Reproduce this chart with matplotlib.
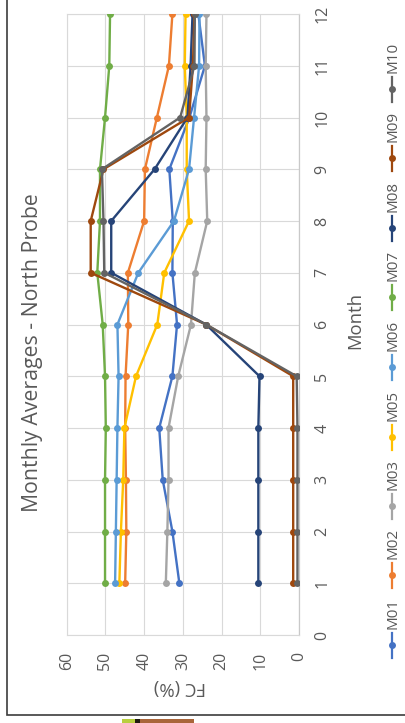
import matplotlib
matplotlib.use("Agg")
import matplotlib.pyplot as plt
from matplotlib.patches import Rectangle

plt.rcParams['font.family'] = ['Open Sans', 'DejaVu Sans']

# Monthly average FC (%) per probe
months = [1, 2, 3, 4, 5, 6, 7, 8, 9, 10, 11, 12]
series_names = ["M01", "M02", "M03", "M05", "M06", "M07", "M08", "M09", "M10"]
M01 = [30.9, 32.7, 35.2, 36.1, 32.7, 31.5, 32.7, 32.6, 33.5, 28.3, 24.3, 26.0]
M02 = [44.9, 44.6, 44.7, 44.9, 44.8, 44.1, 44.2, 40.0, 39.8, 36.7, 33.6, 32.7]
M03 = [34.4, 34.0, 33.7, 33.7, 31.2, 27.9, 26.9, 23.7, 24.1, 23.9, 24.1, 23.9]
M05 = [46.4, 46.0, 45.4, 45.1, 42.1, 36.6, 34.8, 28.4, 29.0, 29.0, 29.5, 29.3]
M06 = [47.5, 47.3, 47.1, 46.9, 46.6, 46.9, 41.5, 32.3, 28.4, 27.1, 25.8, 25.7]
M07 = [50.1, 50.1, 50.1, 49.9, 50.1, 50.7, 52.1, 51.4, 51.4, 50.1, 49.0, 48.8]
M08 = [10.5, 10.5, 10.5, 10.5, 10.2, 24.0, 48.5, 48.5, 37.3, 28.8, 28.0, 27.5]
M09 = [1.5, 1.5, 1.5, 1.5, 1.5, 24.0, 53.8, 53.8, 50.5, 28.4, 27.4, 27.0]
M10 = [0.4, 0.4, 0.4, 0.4, 0.6, 24.0, 50.3, 50.5, 50.9, 30.7, 27.0, 26.9]
series_values = [M01, M02, M03, M05, M06, M07, M08, M09, M10]
series_colors = ["#4472C4", "#ED7D31", "#A5A5A5", "#FFC000", "#5B9BD5",
                 "#70AD47", "#264478", "#9E480E", "#636363"]

fc_ticks = [0, 10, 20, 30, 40, 50, 60]
month_ticks = list(range(0, 13))

title = "Monthly Averages - North Probe"
x_title = "Month"
y_title = "FC (%)"

W, H = 406, 723
fig = plt.figure(figsize=(W / 100, H / 100), dpi=100)
fig.patch.set_facecolor("white")

text_color = "#595959"
grid_color = "#D9D9D9"

# The chart is drawn turned a quarter turn: FC runs right-to-left, months bottom-to-top
ax = fig.add_axes([66.7 / W, 1 - 635 / H, (299 - 66.7) / W, (635 - 14) / H])
ax.set_xlim(60, 0)
ax.set_ylim(0, 12)
ax.set_xticks(fc_ticks)
ax.set_yticks(month_ticks)
ax.grid(True, color=grid_color, lw=0.8)
ax.set_axisbelow(True)
for side in ["top", "bottom", "left"]:
    ax.spines[side].set_color(grid_color)
    ax.spines[side].set_linewidth(0.8)
ax.spines["right"].set_color("#C9C9C9")
ax.spines["right"].set_linewidth(0.9)
ax.yaxis.tick_right()
ax.tick_params(axis="x", length=0, labelrotation=90, pad=12, labelsize=11.5,
               labelcolor=text_color)
ax.tick_params(axis="y", length=0, labelrotation=90, pad=11, labelsize=11.5,
               labelcolor=text_color)
for t in ax.yaxis.get_major_ticks():
    t.label2.set_va("center")

for i, (name, vals, col) in enumerate(zip(series_names, series_values, series_colors)):
    ax.plot(vals, months, color=col, lw=1.7, marker="o", ms=5.0,
            markeredgewidth=0, zorder=3 + i, label=name)

# Overlay in pixel coordinates for titles, legend and frame
ov = fig.add_axes([0, 0, 1, 1])
ov.set_xlim(0, W)
ov.set_ylim(H, 0)
ov.axis("off")
ov.patch.set_visible(False)

ov.text(33, 353, title, rotation=90, ha="center", va="center",
        fontsize=15.3, color=text_color)
ov.text(355, 320, x_title, rotation=90, ha="center", va="center",
        fontsize=13.3, color=text_color)
ov.text(180, 687, y_title, rotation=180, ha="center", va="center",
        fontsize=13.3, color=text_color)

# Legend, stacked bottom-to-top
legend_y = [645, 575, 506, 437, 367, 297, 228, 158, 89]
for name, col, yc in zip(series_names, series_colors, legend_y):
    ov.plot([392, 392], [yc - 12.5, yc + 12.5], color=col, lw=1.6)
    ov.plot([392], [yc], marker="o", ms=5.0, color=col, markeredgewidth=0)
    ov.text(393, yc - 16, name, rotation=90, rotation_mode="anchor",
            ha="left", va="center", fontsize=11, color=text_color)

# Chart frame
ov.plot([7.5, 7.5, W], [0, 715, 715], color="#3c3c3c", lw=1.2,
        solid_joinstyle="miter")
ov.add_patch(Rectangle((122, 719), 13, 4, color="#b9cf3f", lw=0))
ov.add_patch(Rectangle((135, 719), 5, 4, color="#1e1a10", lw=0))
ov.add_patch(Rectangle((140, 719), 54, 4, color="#a9653a", lw=0))

fig.savefig("out.png", dpi=100, facecolor="white")
